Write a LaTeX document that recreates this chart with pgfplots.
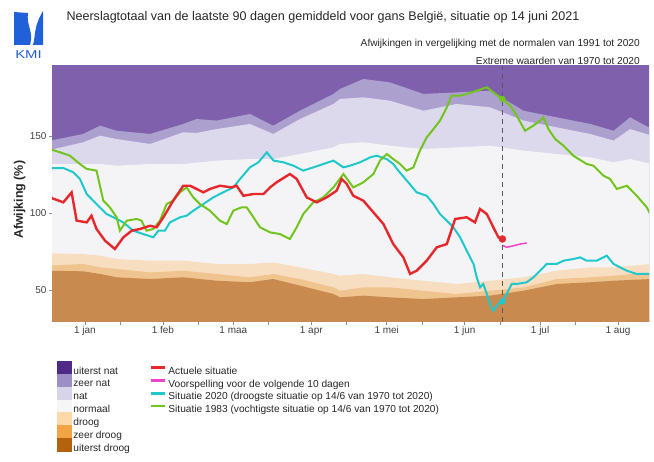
\documentclass[border=0pt]{standalone}
\usepackage{fontspec}
\setmainfont{Liberation Sans}
\usepackage{pgfplots}
\pgfplotsset{compat=1.18}
\definecolor{cUN}{HTML}{7F60AC}
\definecolor{cZN}{HTML}{ACA0CF}
\definecolor{cN}{HTML}{DCD9EC}
\definecolor{cNO}{HTML}{F4F4F7}
\definecolor{cD}{HTML}{F8DEC0}
\definecolor{cZD}{HTML}{F0C48E}
\definecolor{cUD}{HTML}{C88A4E}
\definecolor{lUN}{HTML}{4F2B87}
\definecolor{lZN}{HTML}{9B8FC6}
\definecolor{lN}{HTML}{D7D4E8}
\definecolor{lNO}{HTML}{F6F6F6}
\definecolor{lD}{HTML}{FDD8A8}
\definecolor{lZD}{HTML}{F0A444}
\definecolor{lUD}{HTML}{B5620F}
\definecolor{cRed}{HTML}{E6282D}
\definecolor{cPink}{HTML}{EE44CC}
\definecolor{cCyan}{HTML}{20C8CC}
\definecolor{cGreen}{HTML}{72C41E}
\definecolor{cLogo}{HTML}{2060D8}
\pgfplotsset{
  sqUN/.style={legend image code/.code={\fill[lUN] (0bp,-2.6bp) rectangle (14bp,10bp);}},
  sqZN/.style={legend image code/.code={\fill[lZN] (0bp,-2.6bp) rectangle (14bp,10bp);}},
  sqN/.style={legend image code/.code={\fill[lN] (0bp,-2.6bp) rectangle (14bp,10bp);}},
  sqNO/.style={legend image code/.code={\fill[lNO] (0bp,-2.6bp) rectangle (14bp,10bp);}},
  sqD/.style={legend image code/.code={\fill[lD] (0bp,-2.6bp) rectangle (14bp,10bp);}},
  sqZD/.style={legend image code/.code={\fill[lZD] (0bp,-2.6bp) rectangle (14bp,10bp);}},
  sqUD/.style={legend image code/.code={\fill[lUD] (0bp,-2.6bp) rectangle (14bp,10bp);}},
  lnRed/.style={legend image code/.code={\draw[cRed, line width=2.6bp] (0bp,3.7bp) -- (14bp,3.7bp);}},
  lnPink/.style={legend image code/.code={\draw[cPink, line width=2.6bp] (0bp,3.7bp) -- (14bp,3.7bp);}},
  lnCyan/.style={legend image code/.code={\draw[cCyan, line width=2.6bp] (0bp,3.7bp) -- (14bp,3.7bp);}},
  lnGreen/.style={legend image code/.code={\draw[cGreen, line width=2.6bp] (0bp,3.7bp) -- (14bp,3.7bp);}},
  lnEmpty/.style={legend image code/.code={}},
}
\begin{document}
\begin{tikzpicture}[x=1bp,y=1bp]
\path[use as bounding box] (0,0) rectangle (654,462);
% logo
\fill[cLogo] (14,450) -- (28,449) .. controls (26,437) and (34,430) .. (30,417) -- (14,417) -- cycle;
\fill[cLogo] (43,451) -- (43,417) -- (33,417) .. controls (36,427) and (33,434) .. (43,451) -- cycle;
\node[text=cLogo, font=\fontsize{11.5}{13}\selectfont, xscale=1.3] at (28.5,407) {KMI};
% titles
\node[anchor=west, font=\fontsize{12.6}{14}\selectfont, text=black!85] at (63,445) {Neerslagtotaal van de laatste 90 dagen gemiddeld voor gans België, situatie op 14 juni 2021};
\node[anchor=east, font=\fontsize{10.2}{12}\selectfont, text=black!85, inner sep=0pt] at (640,418) {Afwijkingen in vergelijking met de normalen van 1991 tot 2020};
\node[anchor=east, font=\fontsize{10.2}{12}\selectfont, text=black!85, inner sep=0pt] at (640,401) {Extreme waarden van 1970 tot 2020};
\begin{axis}[
  at={(52bp,140bp)}, anchor=south west, scale only axis,
  width=597bp, height=256bp,
  xmin=-13.1, xmax=224.3, ymin=29.2, ymax=195.45,
  axis x line*=bottom, axis y line*=left, axis line style={draw=none},
  xtick={0,31,59,90,120,151,181,212},
  xticklabels={1 jan,1 feb,1 maa,1 apr,1 mei,1 jun,1 jul,1 aug},
  minor xtick={14,45,73,104,134,165,195},
  ytick={50,100,150},
  tick align=outside, major tick length=3bp, minor tick length=3bp,
  tick style={draw=black!45, line width=0.6bp},
  /pgf/number format/assume math mode=true,
  tick label style={font=\fontsize{10}{11}\selectfont, text=black!75},
  xticklabel style={yshift=2bp},
  yticklabel style={xshift=1bp},
  ylabel={Afwijking (\%)},
  ylabel style={at={(axis description cs:-0.054,0.477)}, anchor=center, font=\fontsize{12.5}{14}\selectfont\bfseries, text=black!85},
  legend columns=2,
  legend cell align=left,
  legend style={at={(0.008,-0.152)}, anchor=north west, draw=none, fill=none,
    font=\fontsize{10.2}{11}\selectfont, inner sep=0pt, row sep=-1.8bp,
    nodes={inner xsep=2bp, inner ysep=0bp, text=black!85},
    /tikz/every even column/.append style={column sep=18bp}},
]
% bands
\addplot[fill=cUN, draw=none, forget plot] coordinates {(-14,200) (226,200)} \closedcycle;
\addplot[fill=cZN, draw=none, forget plot] coordinates {(-14,146.9) (-0.7,151.3) (6.0,156.7) (12.6,153.4) (25.9,151.3) (39.1,157.8) (44.4,161.0) (52.4,160.0) (65.6,164.3) (74.9,156.7) (85.5,166.4) (98.8,177.3) (101.4,180.5) (110.7,187.0) (121.3,184.8) (134.6,177.3) (147.8,178.3) (161.1,179.4) (174.4,166.4) (187.6,162.1) (200.9,157.8) (210.2,153.4) (216.8,162.1) (225.4,154.5)} \closedcycle;
\addplot[fill=cN, draw=none, forget plot] coordinates {(-14,140.9) (-0.7,145.9) (6.0,150.2) (12.6,148.0) (25.9,144.8) (39.1,152.4) (44.4,152.0) (52.4,154.5) (65.6,157.8) (74.9,151.3) (85.5,161.0) (98.8,170.8) (101.4,174.0) (110.7,175.1) (121.3,172.9) (134.6,166.4) (147.8,170.8) (161.1,168.6) (174.4,160.0) (187.6,155.6) (200.9,151.3) (210.2,147.0) (216.8,154.5) (225.4,150.2)} \closedcycle;
\addplot[fill=cNO, draw=none, forget plot] coordinates {(-14,131.8) (-0.7,131.8) (6.0,131.8) (12.6,130.7) (25.9,131.8) (39.1,131.8) (52.4,134.0) (65.6,135.0) (74.9,135.0) (85.5,138.3) (98.8,142.6) (101.4,144.8) (110.7,145.9) (121.3,143.7) (134.6,141.5) (147.8,142.6) (161.1,143.7) (174.4,140.5) (187.6,138.3) (200.9,136.1) (210.2,132.9) (216.8,135.0) (225.4,131.8)} \closedcycle;
\addplot[fill=cD, draw=none, forget plot] coordinates {(-14,73.8) (-0.7,73.3) (6.0,72.3) (12.6,70.1) (25.9,69.0) (39.1,69.0) (52.4,66.9) (65.6,66.9) (74.9,67.9) (85.5,64.7) (98.8,60.4) (101.4,59.3) (110.7,60.4) (121.3,58.2) (134.6,56.0) (147.8,53.9) (161.1,56.0) (174.4,58.2) (187.6,62.5) (200.9,64.7) (210.2,64.7) (225.4,66.9)} \closedcycle;
\addplot[fill=cZD, draw=none, forget plot] coordinates {(-14,65.8) (-0.7,66.9) (6.0,64.7) (12.6,63.6) (25.9,61.4) (39.1,62.5) (52.4,60.4) (65.6,58.2) (74.9,60.4) (85.5,57.1) (98.8,51.7) (101.4,49.5) (110.7,51.7) (121.3,51.7) (134.6,49.5) (147.8,47.4) (161.1,49.5) (174.4,51.7) (187.6,57.1) (200.9,58.2) (210.2,59.3) (225.4,61.4)} \closedcycle;
\addplot[fill=cUD, draw=none, forget plot] coordinates {(-14,62.5) (-0.7,62.1) (6.0,60.4) (12.6,58.2) (25.9,57.1) (39.1,58.2) (52.4,56.0) (65.6,55.0) (74.9,57.1) (85.5,52.8) (98.8,47.4) (101.4,45.2) (110.7,46.3) (121.3,45.2) (134.6,44.1) (147.8,45.2) (161.1,46.3) (174.4,49.5) (187.6,53.9) (200.9,55.0) (210.2,56.0) (225.4,57.1)} \closedcycle;
% lines
\addplot[cCyan, line width=2bp, forget plot] coordinates {(-13.9,129.2) (-8.6,129.2) (-4.6,126.4) (-2.0,122.1) (0.7,112.3) (4.6,105.8) (8.6,99.3) (11.3,97.2) (15.2,93.9) (19.2,88.5) (23.2,86.3) (27.2,84.2) (29.2,88.5) (31.8,88.5) (33.8,93.9) (37.8,97.2) (40.4,98.2) (43.1,101.5) (47.1,105.8) (51.0,110.1) (55.0,113.4) (59.0,116.6) (61.7,122.1) (65.6,129.6) (69.0,132.9) (72.3,139.4) (75.0,134.0) (78.9,132.9) (82.9,130.7) (86.8,127.5) (90.8,129.6) (94.8,131.8) (98.8,134.0) (102.8,129.6) (105.4,130.7) (109.4,132.9) (113.4,136.1) (116.0,137.2) (120.0,135.0) (122.6,131.8) (124.6,127.5) (128.0,121.0) (131.9,113.4) (135.9,111.2) (138.6,105.8) (141.2,99.3) (143.9,95.0) (146.5,90.7) (149.2,84.2) (151.8,75.5) (154.5,66.9) (155.8,58.2) (157.1,51.7) (158.4,53.9) (159.8,47.4) (161.1,40.9) (162.4,36.5) (164.4,40.9) (166.0,42.6) (167.7,47.4) (169.7,53.9) (171.7,53.9) (175.7,55.0) (178.3,58.2) (181.0,62.5) (183.6,66.9) (187.6,66.9) (190.3,69.0) (194.2,70.1) (196.9,71.2) (199.5,69.0) (203.5,69.0) (207.5,72.3) (210.2,66.9) (212.8,64.7) (215.5,62.5) (219.4,60.4) (225.4,60.4)};
\addplot[cGreen, line width=2bp, forget plot] coordinates {(-13.9,141.5) (-9.9,139.4) (-6.0,137.2) (-2.0,131.8) (0.7,128.6) (4.6,127.5) (7.3,108.0) (9.9,103.7) (12.6,97.2) (13.9,88.5) (16.6,95.0) (20.6,96.1) (22.5,95.0) (24.5,88.5) (27.2,89.6) (29.8,95.0) (32.5,105.8) (35.1,108.0) (37.8,113.4) (40.4,116.6) (43.1,110.1) (45.7,105.8) (49.7,101.5) (53.7,95.0) (56.4,92.8) (59.0,101.5) (62.3,103.7) (64.3,103.7) (67.0,97.2) (69.6,90.7) (73.6,87.4) (77.6,86.3) (81.5,83.1) (84.2,90.7) (86.8,99.3) (90.8,106.9) (94.8,110.1) (98.8,116.6) (102.8,125.3) (106.7,116.6) (110.7,119.9) (114.7,125.3) (117.3,134.0) (120.0,138.3) (122.6,135.0) (125.3,131.8) (127.9,127.5) (130.6,129.6) (133.2,140.5) (135.9,149.1) (138.6,154.5) (141.2,160.0) (143.9,168.6) (145.8,176.2) (149.2,176.2) (151.8,177.3) (155.8,179.4) (159.8,181.6) (162.4,178.3) (166.0,174.0) (169.1,169.7) (171.7,163.2) (175.0,153.4) (178.3,156.7) (181.0,160.0) (182.3,162.1) (184.3,154.5) (187.0,148.0) (190.3,143.7) (194.2,137.2) (199.5,131.8) (202.2,130.7) (206.2,124.2) (208.8,122.1) (211.5,115.6) (215.5,117.7) (219.4,111.2) (223.4,103.7) (225.4,97.2)};
\addplot[cRed, line width=2.4bp, forget plot] coordinates {(-13.9,110.1) (-8.6,106.9) (-5.3,113.4) (-3.3,95.0) (0.7,93.9) (2.6,98.2) (4.6,89.6) (8.0,82.0) (11.9,76.6) (15.3,84.2) (18.6,88.5) (21.9,89.6) (25.9,91.7) (28.5,90.7) (31.2,97.2) (35.1,108.0) (39.1,117.7) (41.8,117.7) (47.1,113.4) (49.7,115.6) (53.7,117.7) (58.3,116.6) (60.3,117.7) (63.0,111.2) (67.0,112.3) (71.0,112.3) (73.6,116.6) (76.2,119.9) (81.5,125.3) (84.2,122.1) (88.2,110.1) (92.2,106.9) (96.1,110.1) (100.1,114.5) (102.1,122.1) (104.1,118.8) (106.7,111.2) (110.7,108.0) (114.7,100.4) (118.7,92.8) (122.6,79.8) (126.6,71.2) (129.3,60.4) (131.9,62.5) (135.9,69.0) (139.9,77.7) (143.9,79.8) (147.2,96.1) (151.8,97.2) (155.1,93.9) (157.1,102.6) (159.8,99.3) (162.4,90.7) (164.4,84.2) (166.0,83.1)};
\addplot[cPink, line width=1.5bp, forget plot] coordinates {(166.0,79.0) (167.7,77.7) (170.4,78.7) (173.0,79.8) (175.7,80.5)};
\addplot[draw=black!65, line width=1.5bp, dash pattern=on 5bp off 4bp, forget plot] coordinates {(166,29.2) (166,195.45)};
\addplot[only marks, mark=*, mark size=3.5bp, cRed, forget plot] coordinates {(166.0,83.1)};
\addplot[only marks, mark=*, mark size=3bp, cGreen, forget plot] coordinates {(166.0,174.0)};
\addplot[only marks, mark=*, mark size=3bp, cCyan, forget plot] coordinates {(166.0,42.6)};
% legend
\addlegendimage{sqUN}\addlegendentry{uiterst nat}
\addlegendimage{lnRed}\addlegendentry{Actuele situatie}
\addlegendimage{sqZN}\addlegendentry{zeer nat}
\addlegendimage{lnPink}\addlegendentry{Voorspelling voor de volgende 10 dagen}
\addlegendimage{sqN}\addlegendentry{nat}
\addlegendimage{lnCyan}\addlegendentry{Situatie 2020 (droogste situatie op 14/6 van 1970 tot 2020)}
\addlegendimage{sqNO}\addlegendentry{normaal}
\addlegendimage{lnGreen}\addlegendentry{Situatie 1983 (vochtigste situatie op 14/6 van 1970 tot 2020)}
\addlegendimage{sqD}\addlegendentry{droog}
\addlegendimage{lnEmpty}\addlegendentry{}
\addlegendimage{sqZD}\addlegendentry{zeer droog}
\addlegendimage{lnEmpty}\addlegendentry{}
\addlegendimage{sqUD}\addlegendentry{uiterst droog}
\end{axis}
\end{tikzpicture}
\end{document}
